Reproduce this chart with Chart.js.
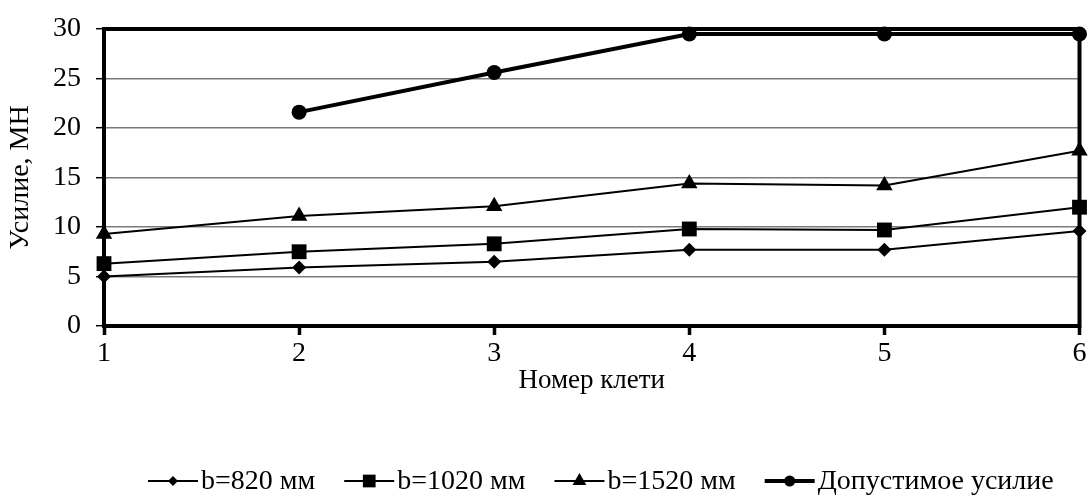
<!DOCTYPE html>
<html>
<head>
<meta charset="utf-8">
<script src="https://cdn.jsdelivr.net/npm/chart.js@4/dist/chart.umd.min.js"></script>
<style>
	html, body { margin: 0; padding: 0; background: #fff; }
	#wrap { width: 1090px; height: 496px; }
</style>
</head>
<body>
<div id="wrap"><canvas id="forceChart" width="1090" height="496"></canvas></div>
<script>
	"use strict";

	var stands = [1, 2, 3, 4, 5, 6];
	var seriesNames = ["b=820 мм", "b=1020 мм", "b=1520 мм", "Допустимое усилие"];
	var force820 = [5.0, 5.9, 6.5, 7.7, 7.7, 9.6];
	var force1020 = [6.3, 7.5, 8.3, 9.8, 9.7, 12.0];
	var force1520 = [9.3, 11.1, 12.1, 14.4, 14.2, 17.7];
	var forceAllowed = [null, 21.6, 25.6, 29.5, 29.5, 29.5];
	var yTicks = [0, 5, 10, 15, 20, 25, 30];

	var FONT = "'Liberation Serif', 'Times New Roman', serif";

	function toPoints(values) {
		var pts = [], i;
		for (i = 0; i < stands.length; i++) {
			if (values[i] !== null) {
				pts.push({ x: stands[i], y: values[i] });
			}
		}
		return pts;
	}

	function series(label, values, style, radius, width, legendRadius) {
		return {
			label: label,
			data: toPoints(values),
			borderColor: "#000",
			backgroundColor: "#000",
			borderWidth: width,
			pointStyle: style,
			pointRadius: radius,
			pointBorderWidth: 0,
			pointHoverRadius: radius,
			legendRadius: legendRadius,
			tension: 0,
			clip: false
		};
	}

	// frame around the plot area, drawn under the lines
	var frame = {
		id: "frame",
		beforeDatasetsDraw: function (chart) {
			var a = chart.chartArea, ctx = chart.ctx;
			ctx.save();
			ctx.strokeStyle = "#000";
			ctx.lineWidth = 4;
			ctx.strokeRect(a.left, a.top, a.right - a.left, a.bottom - a.top);
			ctx.restore();
		}
	};

	// legend: short line with the marker in its middle, then the label
	var lineLegend = {
		id: "lineLegend",
		afterDraw: function (chart) {
			var ctx = chart.ctx, sets = chart.data.datasets;
			var lineLen = 50, gapText = 3, gapItem = 29, y = 481;
			var x = 148, i, ds, w;
			ctx.save();
			ctx.font = "28px " + FONT;
			for (i = 0; i < sets.length; i++) {
				ds = sets[i];
				ctx.strokeStyle = "#000";
				ctx.lineWidth = ds.borderWidth;
				ctx.beginPath();
				ctx.moveTo(x, y);
				ctx.lineTo(x + lineLen, y);
				ctx.stroke();
				ctx.fillStyle = "#000";
				Chart.helpers.drawPoint(ctx, { pointStyle: ds.pointStyle, radius: ds.legendRadius, borderWidth: 0 }, x + lineLen / 2, y);
				ctx.fillStyle = "#000";
				ctx.textAlign = "left";
				ctx.textBaseline = "middle";
				ctx.fillText(ds.label, x + lineLen + gapText, y + 1);
				w = ctx.measureText(ds.label).width;
				x += lineLen + gapText + w + gapItem;
			}
			ctx.restore();
		}
	};

	var chart = new Chart(document.getElementById("forceChart"), {
		type: "line",
		data: {
			datasets: [
				series(seriesNames[0], force820, "rectRot", 7, 2, 5),
				series(seriesNames[1], force1020, "rect", 10.5, 2, 9),
				series(seriesNames[2], force1520, "triangle", 9.5, 2, 8),
				series(seriesNames[3], forceAllowed, "circle", 7.5, 4, 5.5)
			]
		},
		options: {
			responsive: false,
			animation: false,
			devicePixelRatio: 1,
			layout: { padding: { left: 0, right: 8, top: 27, bottom: 0 } },
			plugins: {
				legend: { display: false },
				tooltip: { enabled: false }
			},
			scales: {
				x: {
					type: "linear",
					min: 1,
					max: 6,
					afterFit: function (scale) {
						scale.height = 170;
						scale.paddingRight = 0;
						scale.paddingLeft = 0;
					},
					afterBuildTicks: function (scale) {
						scale.ticks = stands.map(function (v) { return { value: v }; });
					},
					ticks: {
						color: "#000",
						font: { family: FONT, size: 28, lineHeight: 1 },
						padding: 5,
						maxRotation: 0
					},
					grid: {
						drawOnChartArea: false,
						drawTicks: true,
						tickLength: 9,
						tickWidth: 3.5,
						tickColor: "#000"
					},
					border: { display: false },
					title: {
						display: true,
						text: "Номер клети",
						color: "#000",
						font: { family: FONT, size: 27 },
						padding: { top: 0, bottom: 99 }
					}
				},
				y: {
					min: 0,
					max: 30,
					afterFit: function (scale) { scale.width = 104; },
					afterBuildTicks: function (scale) {
						scale.ticks = yTicks.map(function (v) { return { value: v }; });
					},
					ticks: {
						color: "#000",
						font: { family: FONT, size: 28, lineHeight: 1 },
						padding: 15
					},
					grid: {
						color: "#7a7a7a",
						lineWidth: 1.4,
						drawTicks: true,
						tickLength: 8,
						tickWidth: 1.5,
						tickColor: "#000"
					},
					border: { display: false },
					title: {
						display: true,
						text: "Усилие, МН",
						color: "#000",
						font: { family: FONT, size: 28 },
						padding: { top: 4, bottom: 0 }
					}
				}
			}
		},
		plugins: [frame, lineLegend]
	});
</script>
</body>
</html>
